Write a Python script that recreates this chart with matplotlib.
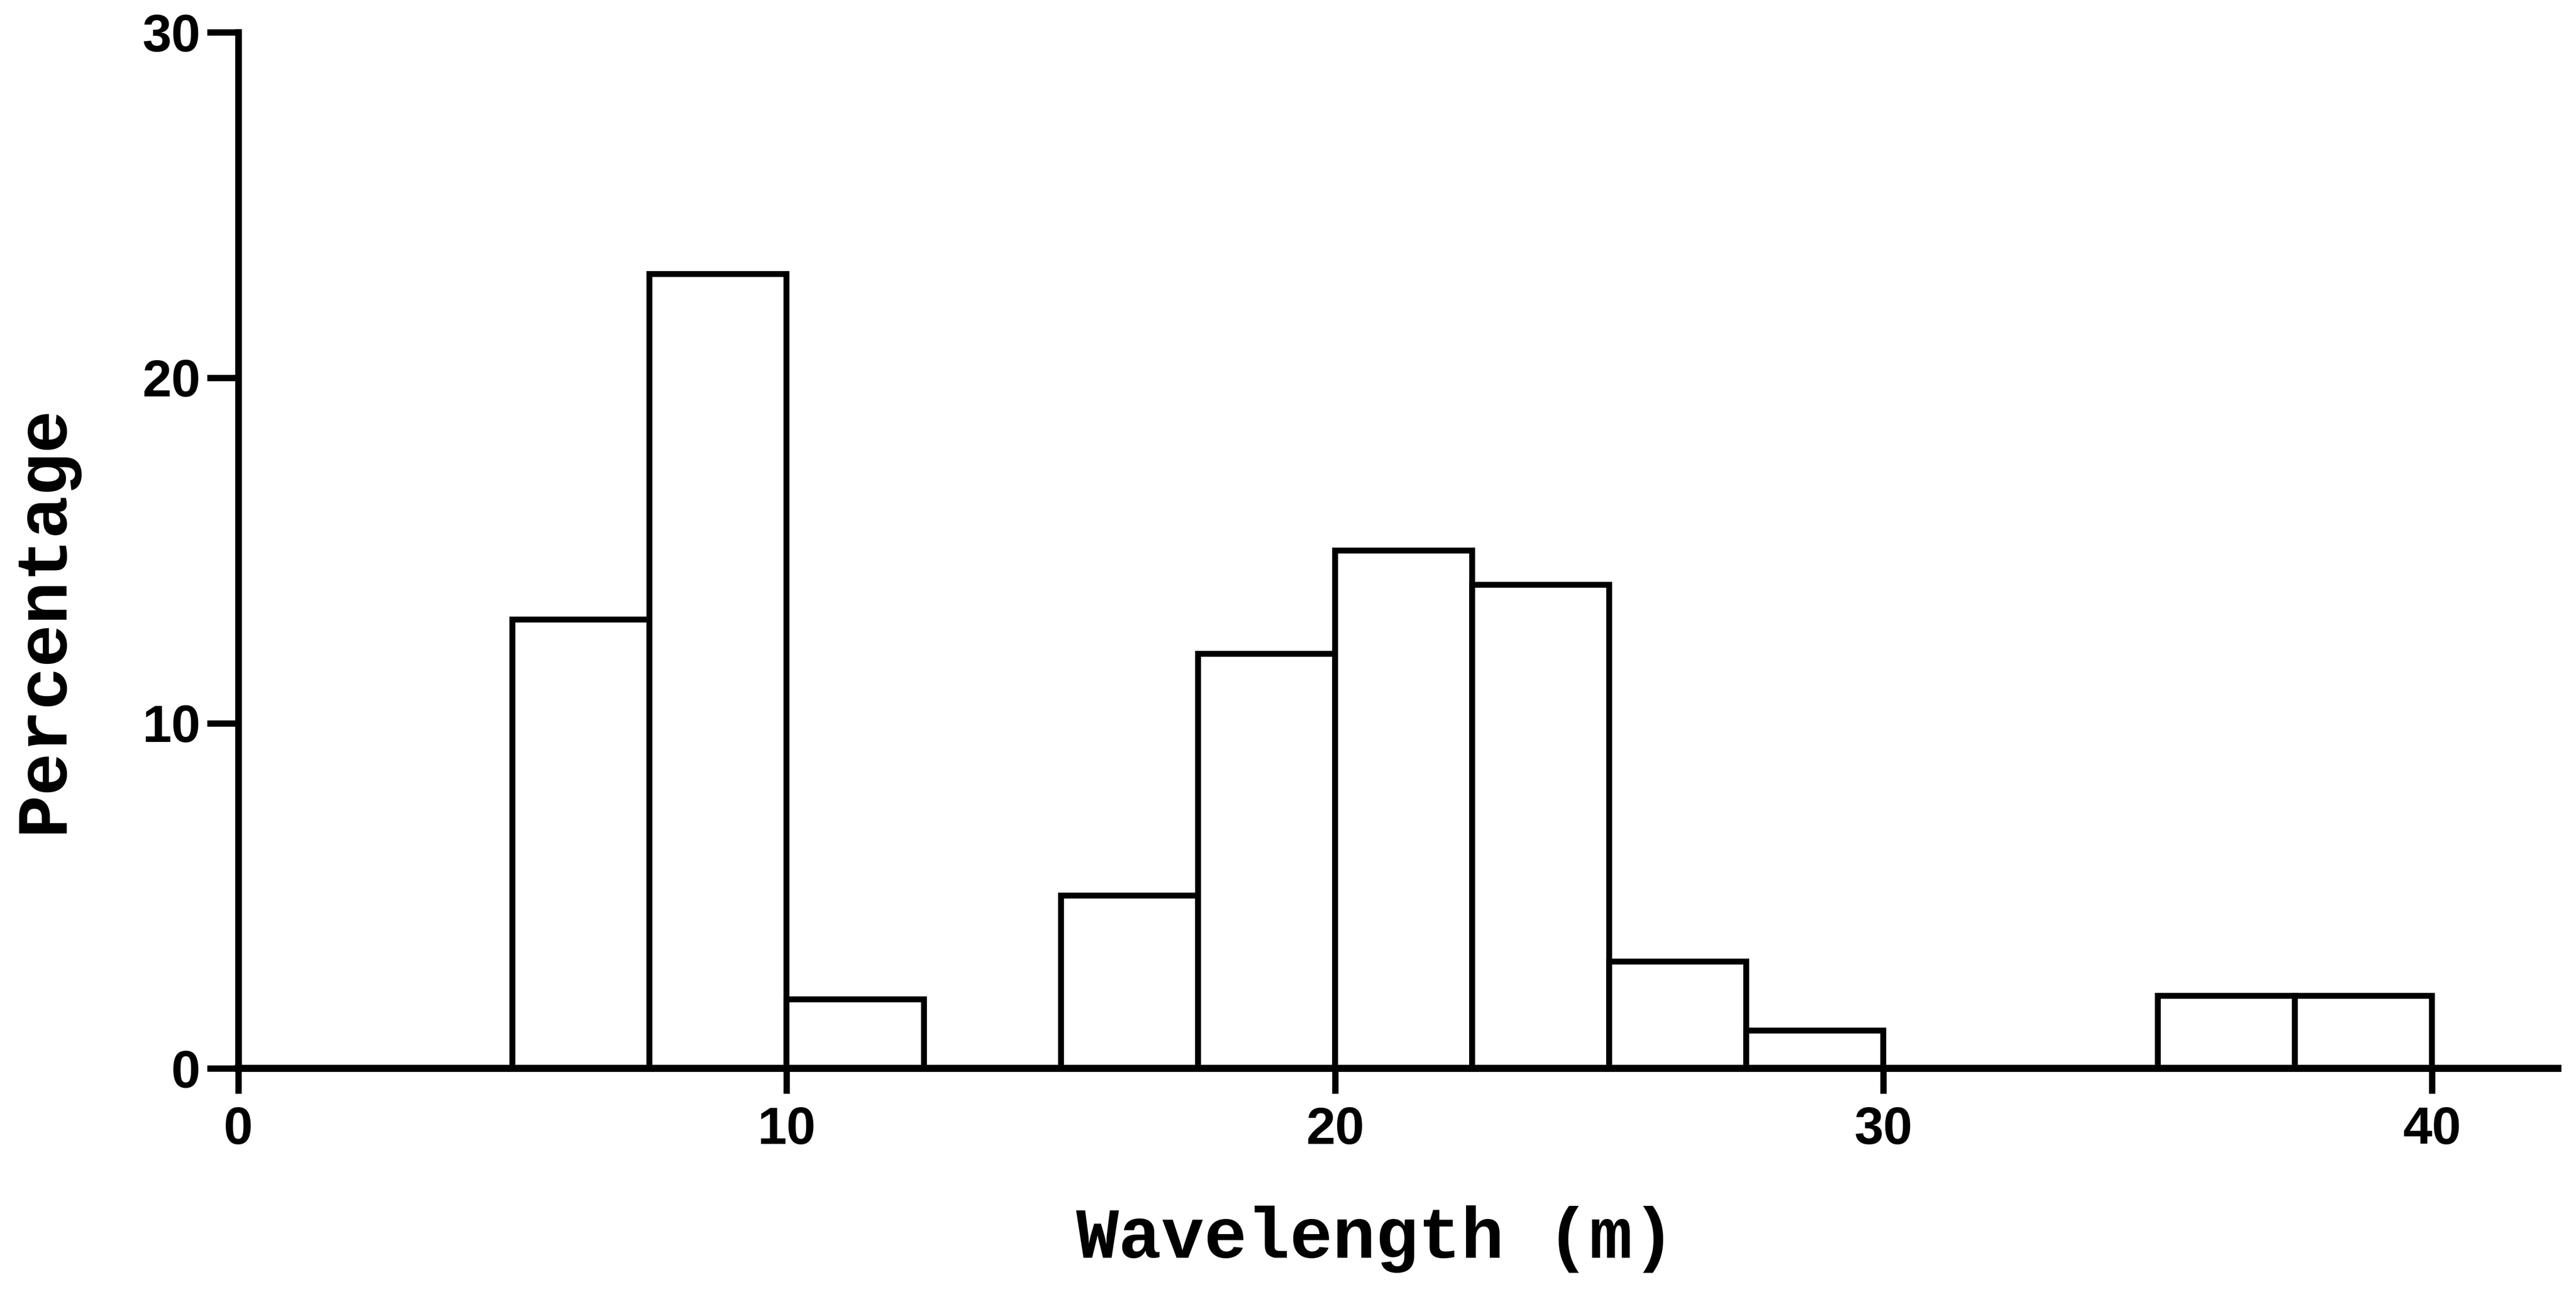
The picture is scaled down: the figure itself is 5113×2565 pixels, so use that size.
import matplotlib.pyplot as plt

# histogram of wavelengths, 2.5 m bins
bin_left = [5, 7.5, 10, 15, 17.5, 20, 22.5, 25, 27.5, 35, 37.5]
percent = [13, 23, 2, 5, 12, 15, 14, 3.1, 1.1, 2.1, 2.1]
bin_width = 2.5

x_ticks = [0, 10, 20, 30, 40]
y_ticks = [0, 10, 20, 30]

fig = plt.figure(figsize=(5113 / 300, 2565 / 300), dpi=300)
ax = fig.add_axes([0.0925, 0.173, 0.9005, 0.802])

ax.bar(bin_left, percent, width=bin_width, align="edge",
       facecolor="white", edgecolor="black", linewidth=2.8)

ax.set_xlim(0, 42.3)
ax.set_ylim(0, 30)

ax.spines["top"].set_visible(False)
ax.spines["right"].set_visible(False)
ax.spines["left"].set_linewidth(3.2)
ax.spines["bottom"].set_linewidth(3.4)

ax.set_xticks(x_ticks)
ax.set_yticks(y_ticks)
tick_font = {"family": "Liberation Sans", "weight": "bold", "size": 25}
ax.set_xticklabels([str(v) for v in x_ticks], fontdict=tick_font)
ax.set_yticklabels([str(v) for v in y_ticks], fontdict=tick_font)
ax.tick_params(axis="x", direction="out", length=12, width=3, pad=6)
ax.tick_params(axis="y", direction="out", length=15, width=3, pad=3)

label_font = {"family": "Liberation Mono", "weight": "bold", "size": 34}
fig.text(0.534, 0.041, "Wavelength (m)", ha="center", va="center", fontdict=label_font)
fig.text(0.017, 0.521, "Percentage", ha="center", va="center", rotation=90, fontdict=label_font)

fig.savefig("out.png", dpi=300, facecolor="white")
